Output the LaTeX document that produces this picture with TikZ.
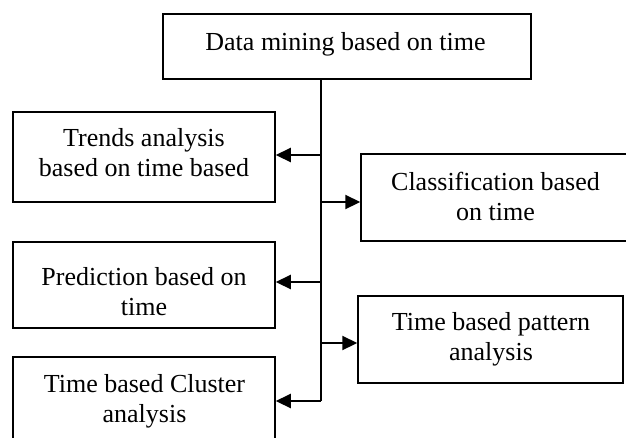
\documentclass[tikz,border=0pt]{standalone}
\usepackage{fontspec}
\setmainfont{Liberation Serif}
\usetikzlibrary{arrows.meta}

\begin{document}
\begin{tikzpicture}[x=1pt, y=-1pt,
  box/.style={draw, line width=1.5pt, rectangle, inner sep=0pt},
  lbl/.style={anchor=base, align=center, inner sep=0pt,
              font=\fontsize{26}{30}\selectfont},
  conn/.style={line width=2.2pt, -{Triangle[length=15pt,width=14pt]}},
  trunkline/.style={line width=2.2pt}]

  % canvas
  \useasboundingbox (0,0) rectangle (626,437);
  \clip (0,0) rectangle (626,437);

  % boxes
  \node[box, minimum width=368pt, minimum height=65pt] (top)     at (347,46.5) {};
  \node[box, minimum width=262pt, minimum height=90pt] (trends)  at (144,157) {};
  \node[box, minimum width=262pt, minimum height=86pt] (predict) at (144,285) {};
  \node[box, minimum width=262pt, minimum height=90pt] (cluster) at (144,402) {};
  \node[box, minimum width=269pt, minimum height=87pt] (classif) at (495.5,197.5) {};
  \node[box, minimum width=265pt, minimum height=87pt] (pattern) at (490.5,339.5) {};

  % texts (anchored on the baseline of their last line)
  \node[lbl] at (345.5,50)  {Data mining based on time};
  \node[lbl] at (144,176)   {Trends analysis\\based on time based};
  \node[lbl] at (144,315)   {Prediction based on\\time};
  \node[lbl] at (144.5,422) {Time based Cluster\\analysis};
  \node[lbl] at (495.5,220) {Classification based\\on time};
  \node[lbl] at (491,360)   {Time based pattern\\analysis};

  % trunk and branches
  \coordinate (trunktop) at (top.south -| 321,0);
  \coordinate (trunkend) at (321,401);
  \draw[trunkline] (trunktop) -- (trunkend);
  \draw[conn] (trunkend) -- (cluster.east |- trunkend);
  \draw[conn] (trunktop |- 0,155) -- (trends.east |- 0,155);
  \draw[conn] (trunktop |- 0,202) -- (classif.west |- 0,202);
  \draw[conn] (trunktop |- 0,282) -- (predict.east |- 0,282);
  \draw[conn] (trunktop |- 0,343) -- (pattern.west |- 0,343);
\end{tikzpicture}
\end{document}
